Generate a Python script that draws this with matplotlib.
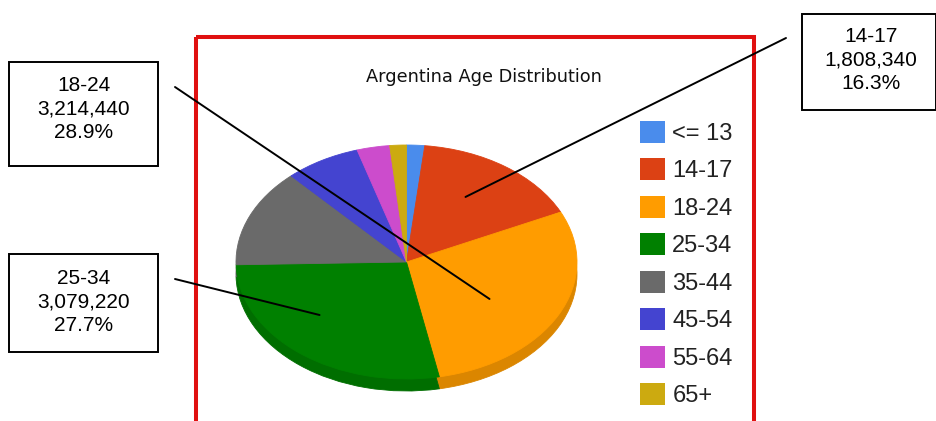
import matplotlib
matplotlib.use('Agg')
import matplotlib.pyplot as plt
from matplotlib.patches import Rectangle
import matplotlib.colors as mcolors

# data
labels = ['<= 13', '14-17', '18-24', '25-34', '35-44', '45-54', '55-64', '65+']
population = [190000, 1808340, 3214440, 3079220, 1505000, 795000, 345000, 175000]
slice_colors = ['#4a8cec', '#dc4114', '#ff9c00', '#008000', '#6a6a6a', '#4444d0', '#cc4ccc', '#ccaa10']
callout_labels = ['18-24', '25-34', '14-17']

total = sum(population)

W, H = 937, 421
fig = plt.figure(figsize=(W / 100, H / 100), dpi=100)
fig.patch.set_facecolor('white')

# pie axes (ellipse bounding box in pixels)
left, right, top, bottom = 236, 577, 145, 379
depth = 12
b = (bottom - top) / 2.0
dep = depth / b
ax = fig.add_axes([left / W, (H - bottom - depth) / H, (right - left) / W, (bottom - top + depth) / H])
ax.axis('off')

side_colors = [tuple(c * 0.86 for c in mcolors.to_rgb(col)) for col in slice_colors]
side, _ = ax.pie(population, colors=side_colors, startangle=90, counterclock=False,
                 center=(0, -dep), wedgeprops=dict(linewidth=0.6))
for w in side:
    w.set_edgecolor(w.get_facecolor())
wedges, _ = ax.pie(population, colors=slice_colors, startangle=90, counterclock=False,
                   wedgeprops=dict(linewidth=0.6))
for w in wedges:
    w.set_edgecolor(w.get_facecolor())
ax.set_aspect('auto')
ax.set_xlim(-1, 1)
ax.set_ylim(-1 - dep, 1)

# overlay in pixel coords
ov = fig.add_axes([0, 0, 1, 1], zorder=5)
ov.set_xlim(0, W)
ov.set_ylim(H, 0)
ov.axis('off')
ov.patch.set_alpha(0)

ov.add_patch(Rectangle((196, 36.5), 558.5, 420, fill=False, edgecolor='#e01010', linewidth=2.9))
ov.text(484, 77, 'Argentina Age Distribution', ha='center', va='center', fontsize=12.8,
        color='#111111', family='DejaVu Sans')

handles = [Rectangle((0, 0), 1, 1, facecolor=c, edgecolor='none') for c in slice_colors]
leg = fig.legend(handles, labels, loc='upper left', bbox_to_anchor=(640 / W, (H - 121) / H),
                 frameon=False, prop={'family': 'Liberation Sans', 'size': 17},
                 handlelength=1.05, handleheight=1.05, handletextpad=0.32, labelspacing=0.57,
                 borderpad=0, borderaxespad=0)
for t in leg.get_texts():
    t.set_color('#222222')

# callouts: box, text centre, line start (pixels), anchor on pie (pie units)
boxes = {'18-24': (9, 62, 149, 104), '25-34': (9, 254, 149, 98), '14-17': (802, 14, 134, 96)}
text_pos = {'18-24': (84, 109), '25-34': (84, 302), '14-17': (871, 60)}
line_start = {'18-24': (175, 87), '25-34': (175, 279), '14-17': (786, 38)}
anchor = {'18-24': (0.487, -0.316), '25-34': (-0.51, -0.453), '14-17': (0.346, 0.556)}

for lab in callout_labels:
    i = labels.index(lab)
    x0, y0, bw, bh = boxes[lab]
    ov.add_patch(Rectangle((x0, y0), bw, bh, fill=False, edgecolor='black', linewidth=1.4))
    txt = '%s\n%s\n%.1f%%' % (lab, format(population[i], ','), population[i] / total * 100)
    ov.text(text_pos[lab][0], text_pos[lab][1], txt, ha='center', va='center', fontsize=15,
            family='Liberation Sans', linespacing=1.3)
    ov.annotate('', xy=anchor[lab], xycoords=ax.transData, xytext=line_start[lab],
                textcoords='data', arrowprops=dict(arrowstyle='-', color='black', lw=1.4,
                                                   shrinkA=0, shrinkB=0))

fig.savefig('out.png', dpi=100)
